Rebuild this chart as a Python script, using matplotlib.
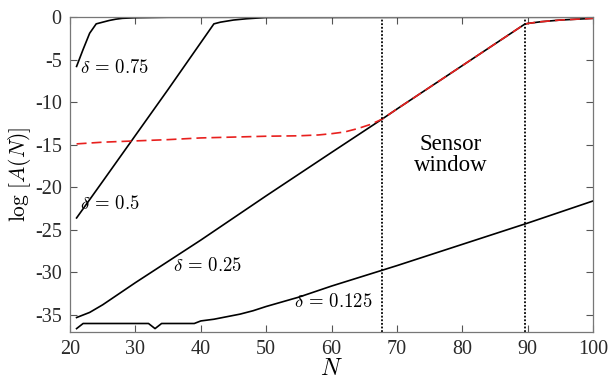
import matplotlib
matplotlib.use("Agg")
import matplotlib.pyplot as plt

plt.rcParams['font.family'] = ['Liberation Serif', 'DejaVu Serif']
plt.rcParams['mathtext.fontset'] = 'cm'

# delta = 0.75
n_075 = [21, 22, 23, 24, 25, 26, 27, 28, 30, 35, 100]
a_075 = [-5.8, -3.8, -1.9, -0.8, -0.6, -0.4, -0.25, -0.15, -0.08, -0.03, 0.0]

# delta = 0.5
n_05 = [21, 25, 30, 35, 40, 41, 42, 43, 45, 47, 50, 100]
a_05 = [-23.6, -19.3, -13.9, -8.5, -3.0, -1.9, -0.8, -0.6, -0.35, -0.2, -0.05, -0.02]

# delta = 0.25
n_025 = [21, 23, 25, 30, 40, 50, 60, 67.7, 70, 80, 89.5, 90, 92, 95, 100]
a_025 = [-35.3, -34.7, -33.8, -31.2, -26.2, -21.0, -15.9, -12.0, -10.8, -5.7, -0.85, -0.75, -0.55, -0.35, -0.15]

# delta = 0.125
n_0125 = [21, 22, 32, 33, 34, 39, 40, 42, 44, 46, 48, 50, 55, 60, 65, 70, 80, 90, 100]
a_0125 = [-36.6, -36.0, -36.0, -36.6, -36.0, -36.0, -35.7, -35.5, -35.2, -34.9, -34.5,
          -34.0, -32.9, -31.6, -30.4, -29.2, -26.7, -24.2, -21.6]

# measured (red dashed)
n_meas = [21, 23, 25, 30, 35, 40, 45, 50, 55, 58, 60, 62, 64, 66, 67.7, 70, 80, 89.5, 90, 92, 95, 100]
a_meas = [-14.9, -14.8, -14.7, -14.55, -14.4, -14.2, -14.1, -14.0, -13.95, -13.85, -13.7,
          -13.5, -13.1, -12.6, -12.0, -10.8, -5.7, -0.85, -0.75, -0.55, -0.35, -0.15]

window = [67.7, 89.6]

xticks = [20, 30, 40, 50, 60, 70, 80, 90, 100]
yticks = [-35, -30, -25, -20, -15, -10, -5, 0]
ytick_labels = ['-35', '-30', '-25', '-20', '-15', '-10', '-5', '0']

fig = plt.figure(figsize=(6.09, 3.79), dpi=100)
ax = fig.add_axes([0.115, 0.124, 0.859, 0.831])

lw = 1.2
ax.plot(n_075, a_075, color='black', lw=lw)
ax.plot(n_05, a_05, color='black', lw=lw)
ax.plot(n_025, a_025, color='black', lw=lw)
ax.plot(n_0125, a_0125, color='black', lw=lw)
ax.plot(n_meas, a_meas, color='#e8201e', lw=lw, linestyle=(0, (6, 3)))
for w in window:
    ax.axvline(w, color='black', lw=1.3, linestyle=(0, (1, 1)))

fs = 13.5
ax.text(21.5, -6.0, r'$\delta\,=\,0.75$', fontsize=fs, va='center', ha='left')
ax.text(21.6, -22.0, r'$\delta\,=\,0.5$', fontsize=fs, va='center', ha='left')
ax.text(35.8, -29.2, r'$\delta\,=\,0.25$', fontsize=fs, va='center', ha='left')
ax.text(54.2, -33.5, r'$\delta\,=\,0.125$', fontsize=fs, va='center', ha='left')
ax.text(78.2, -16.2, 'Sensor\nwindow', fontsize=16.5, va='center', ha='center', linespacing=1.0)

ax.set_xlim(20, 100)
ax.set_ylim(-37, 0)
ax.set_xticks(xticks)
ax.set_xticklabels([str(x) for x in xticks])
ax.set_yticks(yticks)
ax.set_yticklabels(ytick_labels)
ax.tick_params(direction='in', top=True, right=True, length=5, width=0.8,
               color='#555555', labelsize=14.5, labelcolor='#2a2a2a', pad=6)
for s in ax.spines.values():
    s.set_color('#777777')
    s.set_linewidth(0.9)

ax.set_xlabel(r'$N$', fontsize=17, labelpad=0)
ax.set_ylabel(r'$\log\,[A(N)]$', fontsize=15.5, labelpad=1)

fig.savefig('out.png', dpi=100)
